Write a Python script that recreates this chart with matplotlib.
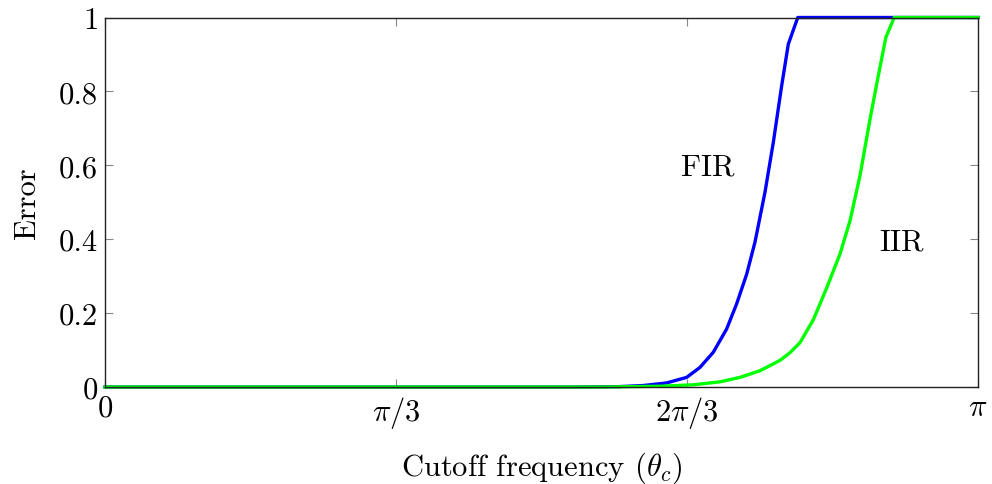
import numpy as np
import matplotlib
matplotlib.use("Agg")
import matplotlib.pyplot as plt

plt.rcParams["font.family"] = ["cmr10", "DejaVu Serif"]
plt.rcParams["mathtext.fontset"] = "cm"
plt.rcParams["axes.formatter.use_mathtext"] = True

# Error versus cutoff frequency (radians)
fir_theta = [0.0, 1.70, 1.85, 1.937, 2.021, 2.093, 2.141, 2.189, 2.237, 2.273,
             2.309, 2.339, 2.375, 2.405, 2.435, 2.459, 2.493, np.pi]
fir_error = [0.0, 0.0, 0.001, 0.004, 0.011, 0.026, 0.053, 0.094, 0.157, 0.225,
             0.305, 0.392, 0.527, 0.662, 0.815, 0.928, 1.0, 1.0]

iir_theta = [0.0, 1.80, 1.997, 2.117, 2.213, 2.285, 2.357, 2.429, 2.465, 2.501,
             2.549, 2.597, 2.645, 2.681, 2.717, 2.753, 2.783, 2.810, 2.840, np.pi]
iir_error = [0.0, 0.0, 0.002, 0.006, 0.014, 0.026, 0.044, 0.072, 0.093, 0.120,
             0.182, 0.268, 0.360, 0.450, 0.572, 0.725, 0.843, 0.946, 1.0, 1.0]

x_ticks = [0, np.pi / 3, 2 * np.pi / 3, np.pi]
x_tick_labels = ["$0$", r"$\pi/3$", r"$2\pi/3$", r"$\pi$"]
y_ticks = [0, 0.2, 0.4, 0.6, 0.8, 1.0]
y_tick_labels = ["0", "0.2", "0.4", "0.6", "0.8", "1"]

fig = plt.figure(figsize=(9.92, 4.85), dpi=100)
ax = fig.add_axes([105 / 992, 1 - 388 / 485, (978 - 105) / 992, (388 - 18.5) / 485])

ax.plot(fir_theta, fir_error, color="#0000ff", lw=2.4, clip_on=False)
ax.plot(iir_theta, iir_error, color="#00ff00", lw=2.4, clip_on=False)

ax.text(2.170, 0.595, "FIR", fontsize=22, ha="center", va="center")
ax.text(2.868, 0.392, "IIR", fontsize=22, ha="center", va="center")

ax.set_xlim(0, np.pi)
ax.set_ylim(0, 1)
ax.set_xticks(x_ticks)
ax.set_xticklabels(x_tick_labels)
ax.set_yticks(y_ticks)
ax.set_yticklabels(y_tick_labels)
ax.tick_params(direction="in", length=6, width=0.8, color="#888888",
               top=True, right=True, labelsize=22, pad=5)

for s in ax.spines.values():
    s.set_linewidth(1.0)
    s.set_color("#222222")

ax.set_xlabel(r"Cutoff frequency ($\theta_c$)", fontsize=22, labelpad=14)
ax.set_ylabel("Error", fontsize=22, labelpad=13)

fig.savefig("out.png", dpi=100)
